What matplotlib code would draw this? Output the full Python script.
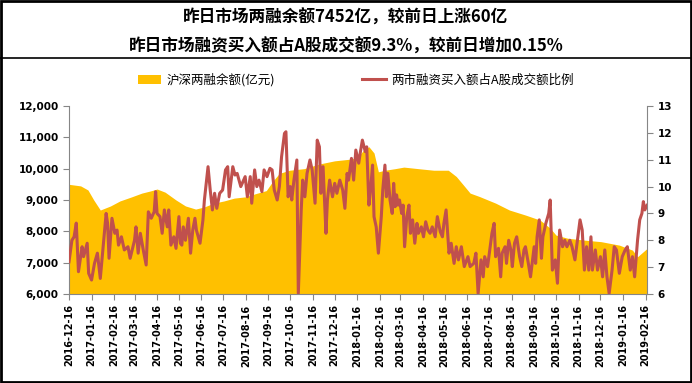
import pandas as pd
import matplotlib
matplotlib.use('Agg')
import matplotlib.pyplot as plt
import matplotlib.dates as mdates
from matplotlib.patches import Patch, Rectangle
from matplotlib.lines import Line2D
from matplotlib.ticker import FuncFormatter

CJK = ['Noto Sans CJK SC', 'DejaVu Sans']

title_1 = '昨日市场两融余额7452亿，较前日上涨60亿'
title_2 = '昨日市场融资买入额占A股成交额9.3%，较前日增加0.15%'
label_balance = '沪深两融余额(亿元)'
label_ratio = '两市融资买入额占A股成交额比例'

# margin balance (100m yuan)
balance_dates = [
    '2016-12-16', '2017-01-01', '2017-01-11', '2017-01-19', '2017-01-28',
    '2017-02-11', '2017-02-24', '2017-03-12', '2017-03-26', '2017-04-07',
    '2017-04-16', '2017-04-27', '2017-05-12', '2017-05-25', '2017-06-08',
    '2017-06-20', '2017-07-03', '2017-07-17', '2017-07-31', '2017-08-15',
    '2017-08-29', '2017-09-13', '2017-09-22', '2017-10-01', '2017-10-15',
    '2017-11-04', '2017-11-25', '2017-12-16', '2018-01-05', '2018-01-16',
    '2018-01-25', '2018-02-01', '2018-02-08', '2018-02-14', '2018-02-23',
    '2018-03-09', '2018-03-21', '2018-04-10', '2018-05-01', '2018-05-21',
    '2018-06-01', '2018-06-10', '2018-06-20', '2018-07-03', '2018-07-25',
    '2018-08-13', '2018-09-04', '2018-09-24', '2018-10-08', '2018-10-16',
    '2018-11-01', '2018-11-24', '2018-12-17', '2019-01-11', '2019-01-29',
    '2019-02-05', '2019-02-18',
]
balance_values = [
    9500, 9450, 9320, 9000, 8680,
    8810, 8970, 9100, 9220, 9290,
    9350, 9250, 9000, 8810, 8710,
    8780, 8900, 8970, 9060, 9100,
    9200, 9300, 9600, 9850, 9950,
    10000, 10150, 10250, 10300, 10350,
    10600, 10700, 10500, 9900, 9950,
    10000, 10050, 10000, 9950, 9950,
    9750, 9500, 9220, 9110, 8900,
    8680, 8520, 8360, 8100, 7880,
    7780, 7720, 7670, 7560, 7400,
    7190, 7452,
]

# financing buy / A-share turnover (%), one row per month
ratio_dates = [
    '2016-12-16', '2016-12-20', '2016-12-23', '2016-12-26', '2016-12-29',
    '2017-01-03', '2017-01-05', '2017-01-10', '2017-01-12', '2017-01-16', '2017-01-20', '2017-01-24', '2017-01-28',
    '2017-02-05', '2017-02-07', '2017-02-09', '2017-02-13', '2017-02-17', '2017-02-20', '2017-02-22', '2017-02-26',
    '2017-03-02', '2017-03-07', '2017-03-10', '2017-03-16', '2017-03-18', '2017-03-21', '2017-03-24', '2017-03-28',
    '2017-04-01', '2017-04-04', '2017-04-08', '2017-04-12', '2017-04-14', '2017-04-16', '2017-04-20', '2017-04-23', '2017-04-26', '2017-04-30',
    '2017-05-02', '2017-05-05', '2017-05-09', '2017-05-12', '2017-05-16', '2017-05-18', '2017-05-20', '2017-05-22', '2017-05-25', '2017-05-29',
    '2017-06-01', '2017-06-04', '2017-06-07', '2017-06-09', '2017-06-14', '2017-06-18', '2017-06-20', '2017-06-25', '2017-06-28',
    '2017-07-01', '2017-07-04', '2017-07-07', '2017-07-11', '2017-07-15', '2017-07-19', '2017-07-22', '2017-07-24', '2017-07-29',
    '2017-08-01', '2017-08-04', '2017-08-09', '2017-08-15', '2017-08-18', '2017-08-22', '2017-08-24', '2017-08-28', '2017-08-31',
    '2017-09-03', '2017-09-07', '2017-09-10', '2017-09-14', '2017-09-18', '2017-09-21', '2017-09-24', '2017-09-28',
    '2017-10-01', '2017-10-04', '2017-10-08', '2017-10-10', '2017-10-13', '2017-10-16', '2017-10-18', '2017-10-21', '2017-10-25', '2017-10-27', '2017-10-31',
    '2017-11-02', '2017-11-05', '2017-11-08', '2017-11-12', '2017-11-15', '2017-11-19', '2017-11-22', '2017-11-25', '2017-11-27', '2017-11-30',
    '2017-12-04', '2017-12-06', '2017-12-09', '2017-12-13', '2017-12-16', '2017-12-19', '2017-12-23', '2017-12-27', '2017-12-30',
    '2018-01-02', '2018-01-04', '2018-01-08', '2018-01-11', '2018-01-14', '2018-01-18', '2018-01-20', '2018-01-23', '2018-01-27', '2018-01-29',
    '2018-02-01', '2018-02-04', '2018-02-06', '2018-02-08', '2018-02-11', '2018-02-14', '2018-02-18', '2018-02-20', '2018-02-23', '2018-02-25', '2018-02-27',
    '2018-03-02', '2018-03-05', '2018-03-07', '2018-03-09', '2018-03-11', '2018-03-13', '2018-03-15', '2018-03-18', '2018-03-20', '2018-03-22', '2018-03-25', '2018-03-28', '2018-03-30',
    '2018-04-02', '2018-04-05', '2018-04-08', '2018-04-10', '2018-04-14', '2018-04-17', '2018-04-20', '2018-04-23', '2018-04-26', '2018-04-29',
    '2018-05-03', '2018-05-06', '2018-05-10', '2018-05-13', '2018-05-15', '2018-05-18', '2018-05-22', '2018-05-25', '2018-05-29',
    '2018-06-01', '2018-06-04', '2018-06-08', '2018-06-12', '2018-06-17', '2018-06-20', '2018-06-25', '2018-06-28',
    '2018-07-01', '2018-07-05', '2018-07-08', '2018-07-10', '2018-07-14', '2018-07-17', '2018-07-20', '2018-07-23', '2018-07-25', '2018-07-29',
    '2018-08-01', '2018-08-03', '2018-08-07', '2018-08-09', '2018-08-12', '2018-08-15', '2018-08-17', '2018-08-20', '2018-08-23', '2018-08-27', '2018-08-30',
    '2018-09-02', '2018-09-04', '2018-09-08', '2018-09-11', '2018-09-16', '2018-09-18', '2018-09-20', '2018-09-23', '2018-09-26', '2018-09-28',
    '2018-10-02', '2018-10-06', '2018-10-08', '2018-10-11', '2018-10-15', '2018-10-18', '2018-10-21', '2018-10-25', '2018-10-28', '2018-10-31',
    '2018-11-04', '2018-11-07', '2018-11-11', '2018-11-15', '2018-11-18', '2018-11-21', '2018-11-24', '2018-11-27', '2018-11-30',
    '2018-12-03', '2018-12-05', '2018-12-09', '2018-12-12', '2018-12-16', '2018-12-19', '2018-12-22', '2018-12-25', '2018-12-28',
    '2019-01-01', '2019-01-04', '2019-01-07', '2019-01-11', '2019-01-15', '2019-01-19', '2019-01-22', '2019-01-26', '2019-01-29',
    '2019-02-01', '2019-02-05', '2019-02-08', '2019-02-11', '2019-02-13', '2019-02-15', '2019-02-18',
]
ratio_values = [
    7.2, 8.0, 8.13, 8.64, 6.83,
    7.76, 7.39, 7.89, 6.77, 6.52, 7.14, 7.52, 6.58,
    9.0, 8.63, 7.33, 8.82, 8.26, 8.38, 7.82, 8.13,
    7.64, 7.76, 7.33, 8.0, 8.5, 7.52, 8.26, 7.64,
    7.08, 9.06, 8.82, 9.06, 9.81, 9.0, 8.88, 8.26, 9.13, 8.5,
    9.13, 7.82, 8.13, 7.7, 8.88, 7.89, 7.82, 8.5, 8.0, 8.82,
    7.52, 8.38, 8.82, 8.38, 7.89, 8.76, 9.5, 10.74, 9.87,
    9.13, 9.75, 9.19, 9.75, 9.87, 10.62, 10.74, 9.62, 10.74,
    10.43, 10.49, 10.0, 10.37, 9.62, 10.37, 9.38, 10.62, 10.0,
    10.24, 9.81, 10.62, 10.37, 10.68, 10.62, 9.87, 9.5,
    10.0, 11.11, 11.98, 12.04, 9.62, 10.0, 9.5, 10.24, 10.99, 6.02, 9.13,
    10.24, 9.62, 10.49, 10.99, 10.62, 9.38, 11.73, 11.48, 9.75, 10.74,
    8.26, 9.5, 10.24, 9.62, 10.12, 9.75, 10.24, 9.87, 9.19,
    10.49, 10.24, 11.05, 10.24, 11.36, 10.87, 11.24, 11.73, 11.3, 11.48,
    9.31, 10.12, 10.8, 8.88, 8.5, 7.52, 8.88, 9.87, 10.8, 9.62, 10.49,
    9.5, 9.0, 10.12, 9.25, 9.69, 9.31, 9.5, 9.0, 9.31, 7.76, 8.88, 9.31, 8.26,
    8.76, 7.89, 8.63, 8.26, 8.5, 8.13, 8.69, 8.38, 8.26, 8.5,
    8.13, 8.88, 8.32, 8.13, 8.63, 9.13, 7.52, 7.89, 7.14,
    7.76, 7.27, 7.76, 7.02, 7.39, 7.02, 7.14, 7.52,
    6.02, 7.27, 6.64, 7.39, 7.02, 7.64, 8.26, 8.63, 7.39, 7.7,
    6.64, 7.52, 7.76, 7.14, 8.0, 7.64, 7.02, 7.89, 8.13, 7.39, 7.02,
    7.64, 7.76, 7.14, 6.64, 7.76, 7.14, 8.13, 8.76, 7.33, 8.13,
    8.63, 9.0, 9.5, 6.89, 7.27, 6.4, 8.38, 7.76, 8.0, 7.76,
    8.0, 7.76, 7.27, 8.13, 8.76, 8.38, 6.89, 7.76, 6.89,
    8.13, 6.89, 7.64, 6.89, 7.39, 6.64, 7.64, 6.64, 6.02,
    6.89, 7.76, 7.64, 6.77, 7.39, 7.64, 7.76, 6.89, 7.39,
    6.64, 8.0, 8.76, 9.0, 9.44, 9.13, 9.3,
]

bal_x = pd.to_datetime(balance_dates)
ratio_x = pd.to_datetime(ratio_dates)

fig = plt.figure(figsize=(6.92, 3.83), dpi=100)
fig.patch.set_facecolor('white')

ax = fig.add_axes([69 / 692, 1 - 294 / 383, (647 - 69) / 692, (294 - 106) / 383])
ax.fill_between(bal_x, 0, balance_values, color='#FFC000', lw=0, zorder=1)
ax.set_ylim(6000, 12000)
ax.set_yticks(range(6000, 12001, 1000))
ax.yaxis.set_major_formatter(FuncFormatter(lambda v, p: f'{v:,.0f}'))
ax.set_xlim(pd.Timestamp('2016-12-16'), pd.Timestamp('2019-02-18'))
ax.xaxis.set_major_locator(mdates.MonthLocator(bymonthday=16))
ax.xaxis.set_major_formatter(mdates.DateFormatter('%Y-%m-%d'))

ax2 = ax.twinx()
ax2.plot(ratio_x, ratio_values, color='#C0504D', lw=2.2, solid_joinstyle='round', zorder=3)
ax2.set_ylim(6, 13)
ax2.set_yticks(range(6, 14))

axis_gray = '#868686'
for a in (ax, ax2):
    a.spines['top'].set_visible(False)
    for s in ('left', 'right', 'bottom'):
        a.spines[s].set_color(axis_gray)
    a.tick_params(colors=axis_gray, length=4, width=0.8, labelcolor='black')
ax.spines['right'].set_visible(False)
ax2.spines['left'].set_visible(False)
ax2.spines['bottom'].set_visible(False)

for lbl in ax.get_yticklabels() + ax2.get_yticklabels():
    lbl.set_fontsize(7.5)
    lbl.set_fontweight('bold')
for lbl in ax.get_xticklabels():
    lbl.set_fontsize(7)
    lbl.set_fontweight('bold')
    lbl.set_rotation(90)

# title block
fig.text(0.5, 1 - 17.5 / 383, title_1, ha='center', va='center', fontsize=12,
         fontweight='bold', family=CJK)
fig.text(0.5, 1 - 46.5 / 383, title_2, ha='center', va='center', fontsize=12,
         fontweight='bold', family=CJK)
fig.add_artist(Line2D([0, 1], [1 - 58 / 383, 1 - 58 / 383], color='black', lw=1.2,
                      transform=fig.transFigure))

handles = [Patch(facecolor='#FFC000', edgecolor='none'),
           Line2D([], [], color='#C0504D', lw=2.2)]
fig.legend(handles, [label_balance, label_ratio], loc='center',
           bbox_to_anchor=(0.514, 1 - 80 / 383), ncol=2, frameon=False,
           prop={'family': CJK, 'size': 9}, handlelength=1.9,
           handletextpad=0.4, columnspacing=7)

# outer frame
fig.add_artist(Rectangle((0.002, 0.003), 0.996, 0.994, fill=False, edgecolor='black',
                         lw=2, transform=fig.transFigure))

fig.savefig('out.png', dpi=100)
